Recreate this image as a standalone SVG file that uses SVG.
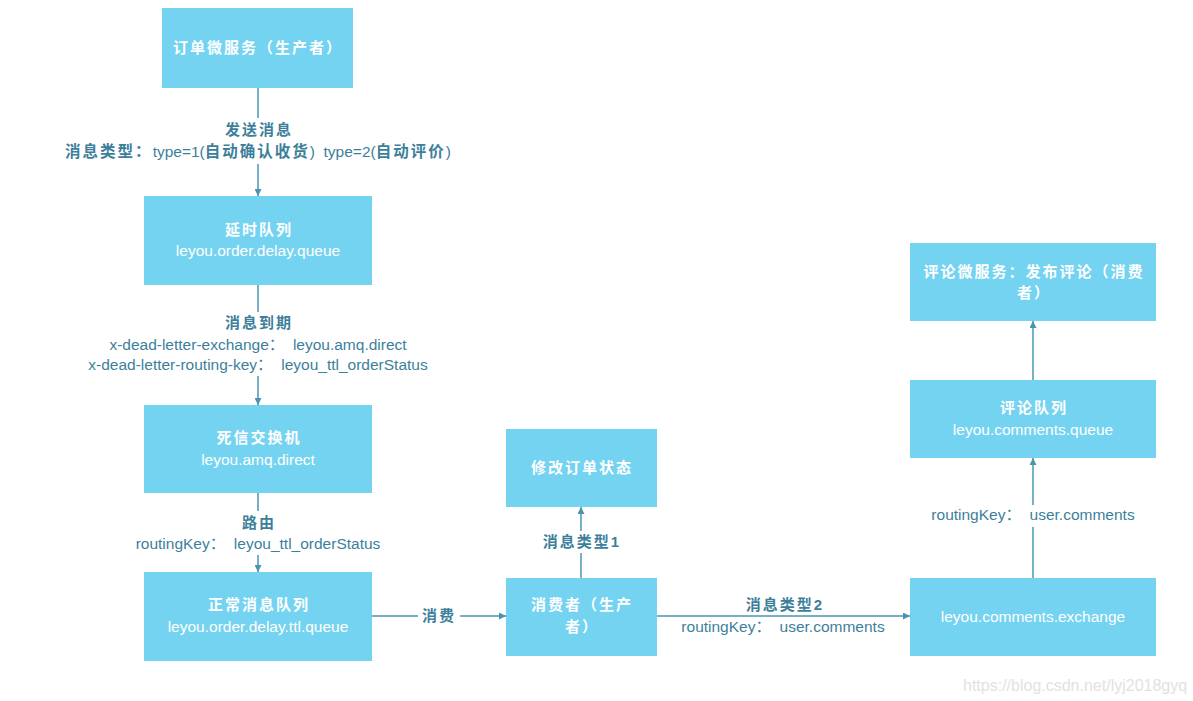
<svg xmlns="http://www.w3.org/2000/svg" width="1193" height="701" viewBox="0 0 1193 701">
<style>
.box{fill:#74d3f1}
.bt{fill:#ffffff;font-family:"Liberation Sans","Noto Sans CJK SC",sans-serif;font-size:15px;font-weight:bold;text-anchor:middle;letter-spacing:2px}
.bl{fill:#ffffff;font-family:"Liberation Sans","Noto Sans CJK SC",sans-serif;font-size:15.5px;text-anchor:middle}
.lt{fill:#3d7f9b;font-family:"Liberation Sans","Noto Sans CJK SC",sans-serif;font-size:15px;font-weight:bold;text-anchor:middle;letter-spacing:2px}
.ll{fill:#3d7f9b;font-family:"Liberation Sans","Noto Sans CJK SC",sans-serif;font-size:15.5px;text-anchor:middle}
.cj{font-weight:bold;letter-spacing:2px}
.ln{stroke:#4a94b0;stroke-width:1.5;fill:none}
.bg{fill:#ffffff}
.wm{fill:#e2e2e2;font-family:"Liberation Sans",sans-serif;font-size:16px}
</style>
<defs>
<marker id="ah" viewBox="0 0 10 10" refX="10" refY="5" markerWidth="7" markerHeight="7" markerUnits="userSpaceOnUse" orient="auto">
<path d="M0,0 L10,5 L0,10 Z" fill="#4a94b0"/>
</marker>
</defs>
<rect width="1193" height="701" fill="#ffffff"/>
<g id="connectors">
<line class="ln" x1="258" y1="88" x2="258" y2="196" marker-end="url(#ah)"/>
<line class="ln" x1="258" y1="285" x2="258" y2="405" marker-end="url(#ah)"/>
<line class="ln" x1="258" y1="493" x2="258" y2="572" marker-end="url(#ah)"/>
<line class="ln" x1="372" y1="616" x2="506" y2="616" marker-end="url(#ah)"/>
<line class="ln" x1="581" y1="578" x2="581" y2="507" marker-end="url(#ah)"/>
<line class="ln" x1="657" y1="616" x2="910" y2="616" marker-end="url(#ah)"/>
<line class="ln" x1="1033" y1="578" x2="1033" y2="458" marker-end="url(#ah)"/>
<line class="ln" x1="1033" y1="380" x2="1033" y2="321" marker-end="url(#ah)"/>
<rect class="bg" x="56" y="118" width="404" height="46"/>
<rect class="bg" x="78" y="312" width="360" height="64"/>
<rect class="bg" x="128" y="511" width="260" height="44"/>
<rect class="bg" x="418" y="606" width="42" height="20"/>
<rect class="bg" x="540" y="531" width="82" height="22"/>
<rect class="bg" x="928" y="505" width="210" height="22"/>
<text class="lt" x="259" y="135">发送消息</text>
<text class="ll" x="258" y="157" xml:space="preserve"><tspan class="cj">消息类型：</tspan>type=1(<tspan class="cj">自动确认收货</tspan>)  type=2(<tspan class="cj">自动评价</tspan>)</text>
<text class="lt" x="259" y="328">消息到期</text>
<text class="ll" x="258" y="350" xml:space="preserve">x-dead-letter-exchange：  leyou.amq.direct</text>
<text class="ll" x="258" y="370" xml:space="preserve">x-dead-letter-routing-key：  leyou_ttl_orderStatus</text>
<text class="lt" x="259" y="528">路由</text>
<text class="ll" x="258" y="549" xml:space="preserve">routingKey：  leyou_ttl_orderStatus</text>
<text class="lt" x="439" y="621">消费</text>
<text class="lt" x="582" y="547">消息类型1</text>
<text class="lt" x="785" y="610">消息类型2</text>
<text class="ll" x="783" y="632" xml:space="preserve">routingKey：  user.comments</text>
<text class="ll" x="1033" y="520" xml:space="preserve">routingKey：  user.comments</text>
</g>
<g id="n1"><rect class="box" x="162" y="8" width="191" height="80"/><text class="bt" x="258" y="53">订单微服务（生产者）</text></g>
<g id="n2"><rect class="box" x="144" y="196" width="228" height="89"/><text class="bt" x="259" y="235">延时队列</text><text class="bl" x="258" y="256">leyou.order.delay.queue</text></g>
<g id="n3"><rect class="box" x="144" y="405" width="228" height="88"/><text class="bt" x="259" y="443">死信交换机</text><text class="bl" x="258" y="465">leyou.amq.direct</text></g>
<g id="n4"><rect class="box" x="144" y="572" width="228" height="89"/><text class="bt" x="259" y="610">正常消息队列</text><text class="bl" x="258" y="632">leyou.order.delay.ttl.queue</text></g>
<g id="n5"><rect class="box" x="506" y="429" width="151" height="78"/><text class="bt" x="582" y="473">修改订单状态</text></g>
<g id="n6"><rect class="box" x="506" y="578" width="151" height="78"/><text class="bt" x="582" y="610">消费者（生产</text><text class="bt" x="582" y="632">者）</text></g>
<g id="n7"><rect class="box" x="910" y="243" width="246" height="78"/><text class="bt" x="1034" y="277">评论微服务：发布评论（消费</text><text class="bt" x="1034" y="298">者）</text></g>
<g id="n8"><rect class="box" x="910" y="380" width="246" height="78"/><text class="bt" x="1034" y="413">评论队列</text><text class="bl" x="1033" y="435">leyou.comments.queue</text></g>
<g id="n9"><rect class="box" x="910" y="578" width="246" height="78"/><text class="bl" x="1033" y="622">leyou.comments.exchange</text></g>
<text class="wm" x="963" y="691">https://blog.csdn.net/lyj2018gyq</text>
</svg>
